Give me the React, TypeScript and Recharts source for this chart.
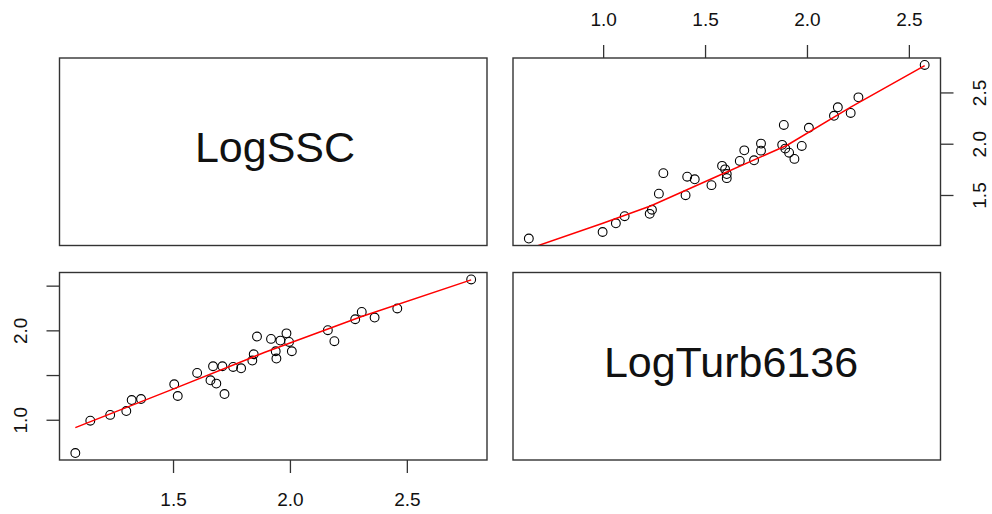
import { Scatter, ScatterChart, XAxis, YAxis } from 'recharts'

const logSSC = [
  1.080, 1.144, 1.229, 1.298, 1.321, 1.361, 1.503, 1.518, 1.601, 1.658, 1.669,
  1.683, 1.709, 1.718, 1.755, 1.789, 1.837, 1.843, 1.857, 1.917, 1.937, 1.940,
  1.957, 1.983, 1.994, 2.006, 2.160, 2.188, 2.277, 2.305, 2.360, 2.457, 2.773,
]
const logTurb = [
  0.633, 0.995, 1.060, 1.103, 1.226, 1.237, 1.402, 1.271, 1.529, 1.447, 1.604,
  1.410, 1.604, 1.293, 1.596, 1.581, 1.668, 1.738, 1.936, 1.910, 1.772, 1.690,
  1.891, 1.972, 1.876, 1.772, 2.007, 1.884, 2.130, 2.212, 2.149, 2.250, 2.575,
]

// smoother lines (panel.smooth)
const fitSSCx = [1.08, 1.503, 1.888, 2.305, 2.773]
const fitTurbY = [0.917, 1.354, 1.757, 2.16, 2.57]
const fitTurbX = [0.633, 0.996, 1.233, 1.56, 1.9, 2.21, 2.575]
const fitSSCy = [0.98, 1.23, 1.4, 1.69, 1.99, 2.36, 2.766]

const sscTicks = [1.5, 2.0, 2.5]
const turbTicks = [1.0, 1.5, 2.0, 2.5]
const turbLabelled = [1.0, 2.0]

const W = 992
const H = 514
const font = '"Liberation Sans", Arial, Helvetica, sans-serif'

// panel boxes
const L = { x0: 59.5, x1: 487 }
const R = { x0: 513, x1: 940.5 }
const T = { y0: 58, y1: 245.5 }
const B = { y0: 272.5, y1: 460 }

const range = (v: number[]) => {
  const lo = Math.min(...v)
  const hi = Math.max(...v)
  const d = (hi - lo) * 0.04
  return [lo - d, hi + d]
}

const sscDomain = range(logSSC)
const turbDomain = range(logTurb)

const points = logSSC.map((s, i) => ({ ssc: s, turb: logTurb[i] }))
const fitBL = fitSSCx.map((s, i) => ({ ssc: s, turb: fitTurbY[i] }))
const fitTR = fitTurbX.map((t, i) => ({ turb: t, ssc: fitSSCy[i] }))

const fmt = (v: number) => v.toFixed(1)
const labelStyle = { fontSize: 19, fill: '#111', fontFamily: font }
const tickLine = { stroke: '#333', strokeWidth: 1.3 }

const Circle = (p: any) => (
  <circle cx={p.cx} cy={p.cy} r={4.4} fill="none" stroke="#000" strokeWidth={1.1} />
)
const Nothing = () => <g />

const VertLabel = (x: number, y: number, v: number) => (
  <text
    x={x}
    y={y}
    transform={`rotate(-90 ${x} ${y})`}
    textAnchor="middle"
    dominantBaseline="central"
    {...labelStyle}
  >
    {fmt(v)}
  </text>
)

const abs = { position: 'absolute' as const, left: 0, top: 0 }

export default function App() {
  return (
    <div style={{ ...abs, width: W, height: H, background: '#fff' }}>
      {/* bottom-left: x = LogSSC, y = LogTurb6136 */}
      <div style={abs}>
        <ScatterChart width={W} height={H} margin={{ top: B.y0, left: 0, right: W - L.x1, bottom: 0 }}>
          <XAxis
            type="number"
            dataKey="ssc"
            domain={sscDomain}
            allowDataOverflow
            ticks={sscTicks}
            interval={0}
            height={H - B.y1}
            axisLine={false}
            tickLine={tickLine}
            tickSize={13}
            tick={(p: any) => (
              <text x={p.x} y={B.y1 + 39} textAnchor="middle" dominantBaseline="central" {...labelStyle}>
                {fmt(p.payload.value)}
              </text>
            )}
          />
          <YAxis
            type="number"
            dataKey="turb"
            domain={turbDomain}
            allowDataOverflow
            ticks={turbTicks}
            interval={0}
            width={L.x0}
            axisLine={false}
            tickLine={tickLine}
            tickSize={13}
            tick={(p: any) =>
              turbLabelled.includes(p.payload.value) ? VertLabel(L.x0 - 39, p.y, p.payload.value) : <g />
            }
          />
          <Scatter data={points} shape={Circle} isAnimationActive={false} />
          <Scatter
            data={fitBL}
            line={{ stroke: '#ff0000', strokeWidth: 1.5 }}
            lineType="joint"
            shape={Nothing}
            isAnimationActive={false}
          />
        </ScatterChart>
      </div>

      {/* top-right: x = LogTurb6136, y = LogSSC */}
      <div style={abs}>
        <ScatterChart width={W} height={H} margin={{ top: 0, left: R.x0, right: 0, bottom: H - T.y1 }}>
          <XAxis
            type="number"
            dataKey="turb"
            orientation="top"
            domain={turbDomain}
            allowDataOverflow
            ticks={turbTicks}
            interval={0}
            height={T.y0}
            axisLine={false}
            tickLine={tickLine}
            tickSize={13}
            tick={(p: any) => (
              <text x={p.x} y={T.y0 - 39} textAnchor="middle" dominantBaseline="central" {...labelStyle}>
                {fmt(p.payload.value)}
              </text>
            )}
          />
          <YAxis
            type="number"
            dataKey="ssc"
            orientation="right"
            domain={sscDomain}
            allowDataOverflow
            ticks={sscTicks}
            interval={0}
            width={W - R.x1}
            axisLine={false}
            tickLine={tickLine}
            tickSize={13}
            tick={(p: any) => VertLabel(R.x1 + 39, p.y, p.payload.value)}
          />
          <Scatter data={points} shape={Circle} isAnimationActive={false} />
          <Scatter
            data={fitTR}
            line={{ stroke: '#ff0000', strokeWidth: 1.5 }}
            lineType="joint"
            shape={Nothing}
            isAnimationActive={false}
          />
        </ScatterChart>
      </div>

      {/* panel frames and diagonal labels */}
      <svg width={W} height={H} style={{ ...abs, pointerEvents: 'none' }}>
        {[
          [L.x0, T.y0, L.x1, T.y1],
          [R.x0, T.y0, R.x1, T.y1],
          [L.x0, B.y0, L.x1, B.y1],
          [R.x0, B.y0, R.x1, B.y1],
        ].map(([x0, y0, x1, y1], i) => (
          <rect key={i} x={x0} y={y0} width={x1 - x0} height={y1 - y0} fill="none" stroke="#333" strokeWidth={1.4} />
        ))}
        <text x={275} y={161.7} textAnchor="middle" fontSize={43} fontFamily={font} fill="#111">
          LogSSC
        </text>
        <text x={731} y={376.7} textAnchor="middle" fontSize={43} fontFamily={font} fill="#111">
          LogTurb6136
        </text>
      </svg>
    </div>
  )
}
